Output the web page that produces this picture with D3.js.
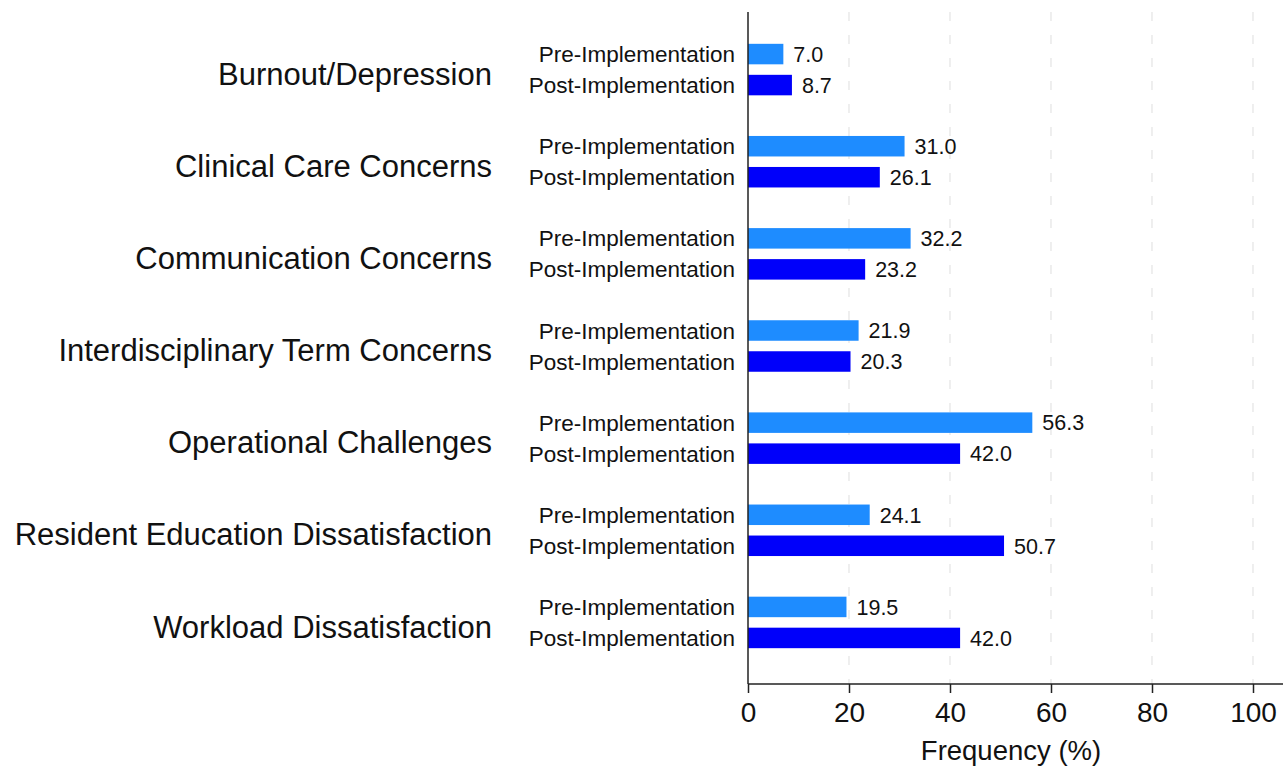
<!DOCTYPE html>
<html>
<head>
<meta charset="utf-8">
<script src="https://cdn.jsdelivr.net/npm/d3@7"></script>
<style>
  html, body { margin: 0; padding: 0; background: #fff; }
  svg { display: block; font-family: "Liberation Sans", Arial, Helvetica, sans-serif; }
</style>
</head>
<body>
<svg id="chart" width="1283" height="767"></svg>
<script>
const categories = [
  "Burnout/Depression",
  "Clinical Care Concerns",
  "Communication Concerns",
  "Interdisciplinary Term Concerns",
  "Operational Challenges",
  "Resident Education Dissatisfaction",
  "Workload Dissatisfaction"
];
const seriesNames = ["Pre-Implementation", "Post-Implementation"];
const preValues  = [7.0, 31.0, 32.2, 21.9, 56.3, 24.1, 19.5];
const postValues = [8.7, 26.1, 23.2, 20.3, 42.0, 50.7, 42.0];
const xTicks = [0, 20, 40, 60, 80, 100];
const xTitle = "Frequency (%)";

(function () {
const colors = { "Pre-Implementation": "#1e8cff", "Post-Implementation": "#0000fa" };

const svg = d3.select("#chart");
const plotLeft = 748, plotRight = 1253, plotTop = 12, plotBottom = 684;

const x = d3.scaleLinear().domain([0, 100]).range([plotLeft, plotRight]);
const y = d3.scaleBand().domain(categories).range([23.5, 668.5]).paddingInner(0).paddingOuter(0);
const ySub = d3.scaleBand().domain(seriesNames).range([-31, 31]).paddingInner(0.5).paddingOuter(0.25);

// gridlines
svg.append("g").selectAll("line").data(xTicks.filter(d => d > 0)).join("line")
  .attr("x1", d => x(d)).attr("x2", d => x(d))
  .attr("y1", plotTop).attr("y2", plotBottom)
  .attr("stroke", "#e6e6e6").attr("stroke-width", 1.3)
  .attr("stroke-dasharray", "9,14");

const data = [];
categories.forEach((c, i) => {
  data.push({ cat: c, s: seriesNames[0], v: preValues[i] });
  data.push({ cat: c, s: seriesNames[1], v: postValues[i] });
});

const barH = 20.5;
const cy = d => y(d.cat) + y.bandwidth() / 2 + ySub(d.s) + ySub.bandwidth() / 2;
const g = svg.append("g");
g.selectAll("rect").data(data).join("rect")
  .attr("x", x(0))
  .attr("y", d => cy(d) - barH / 2)
  .attr("width", d => x(d.v) - x(0))
  .attr("height", barH)
  .attr("fill", d => colors[d.s]);

// value labels
g.selectAll("text.val").data(data).join("text")
  .attr("class", "val")
  .attr("x", d => x(d.v) + 10)
  .attr("y", cy)
  .attr("dy", "0.36em")
  .attr("font-size", 21.5)
  .attr("fill", "#111")
  .text(d => d.v.toFixed(1));

// series labels
g.selectAll("text.sub").data(data).join("text")
  .attr("class", "sub")
  .attr("x", 735)
  .attr("y", cy)
  .attr("dy", "0.36em")
  .attr("text-anchor", "end")
  .attr("font-size", 22.5)
  .attr("fill", "#111")
  .text(d => d.s);

// category labels
g.selectAll("text.cat").data(categories).join("text")
  .attr("class", "cat")
  .attr("x", 492)
  .attr("y", d => y(d) + y.bandwidth() / 2 + 4)
  .attr("dy", "0.36em")
  .attr("text-anchor", "end")
  .attr("font-size", 31)
  .attr("fill", "#111")
  .text(d => d);

// y axis line
svg.append("line")
  .attr("x1", plotLeft).attr("x2", plotLeft).attr("y1", plotTop).attr("y2", plotBottom)
  .attr("stroke", "#222").attr("stroke-width", 1.5);

// x axis
const xAxis = d3.axisBottom(x).tickValues(xTicks).tickSize(9).tickPadding(9).tickFormat(d3.format("d"));
const ax = svg.append("g").attr("transform", `translate(0,${plotBottom})`).call(xAxis);
ax.select(".domain").attr("d", `M${plotLeft},0H1283`).attr("stroke", "#222").attr("stroke-width", 1.5);
ax.selectAll(".tick line").attr("stroke", "#222").attr("stroke-width", 1.5);
ax.selectAll(".tick text").attr("font-size", 28).attr("fill", "#111")
  .attr("font-family", "\"Liberation Sans\", Arial, sans-serif");

svg.append("text")
  .attr("x", 1011).attr("y", 760)
  .attr("text-anchor", "middle")
  .attr("font-size", 27.5).attr("fill", "#111")
  .text(xTitle);
})();
</script>
</body>
</html>
